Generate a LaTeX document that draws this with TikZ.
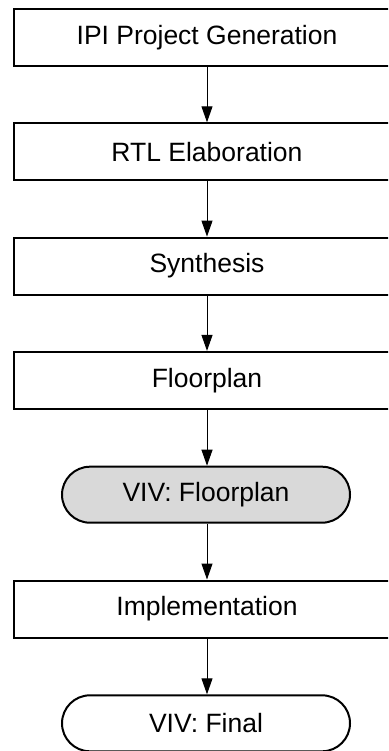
\documentclass[tikz,border=0pt]{standalone}
\usepackage{fontspec}
\setmainfont{Liberation Sans}
\usetikzlibrary{shapes.misc,arrows.meta}
\definecolor{stagegray}{HTML}{D9D9D9}
\tikzset{
  stagebox/.style={draw=black, line width=2pt, fill=white, rectangle,
    minimum width=386pt, minimum height=57pt, inner sep=0pt,
    font=\fontsize{26.5pt}{30pt}\selectfont},
  vivbox/.style={draw=black, line width=2pt, rounded rectangle,
    minimum width=288pt, minimum height=56pt, inner sep=0pt,
    font=\fontsize{26.5pt}{30pt}\selectfont},
  flow/.style={draw=black, line width=1pt, -{Triangle[length=16pt,width=11pt]}}
}
\begin{document}
\begin{tikzpicture}[x=1pt,y=-1pt]
  \useasboundingbox (0,0) rectangle (388,751);
  \clip (0,0) rectangle (388,751);
  \node[stagebox] (ipi)   at (207,37.5)  {IPI Project Generation};
  \node[stagebox] (rtl)   at (207,151.8) {RTL Elaboration};
  \node[stagebox] (syn)   at (207,266.1) {Synthesis};
  \node[stagebox] (fp)    at (207,380.4) {Floorplan};
  \node[vivbox, fill=stagegray] (vivfp) at (206,494.7) {VIV: Floorplan};
  \node[stagebox] (impl)  at (207,609.0) {Implementation};
  \node[vivbox, fill=white] (vivfin) at (206,723.3) {VIV: Final};
  \draw[flow] (ipi.south -| 207,0) -- (rtl.north -| 207,0);
  \draw[flow] (rtl.south -| 207,0) -- (syn.north -| 207,0);
  \draw[flow] (syn.south -| 207,0) -- (fp.north -| 207,0);
  \draw[flow] (fp.south -| 207,0) -- (vivfp.north -| 207,0);
  \draw[flow] (vivfp.south -| 207,0) -- (impl.north -| 207,0);
  \draw[flow] (impl.south -| 207,0) -- (vivfin.north -| 207,0);
\end{tikzpicture}
\end{document}
